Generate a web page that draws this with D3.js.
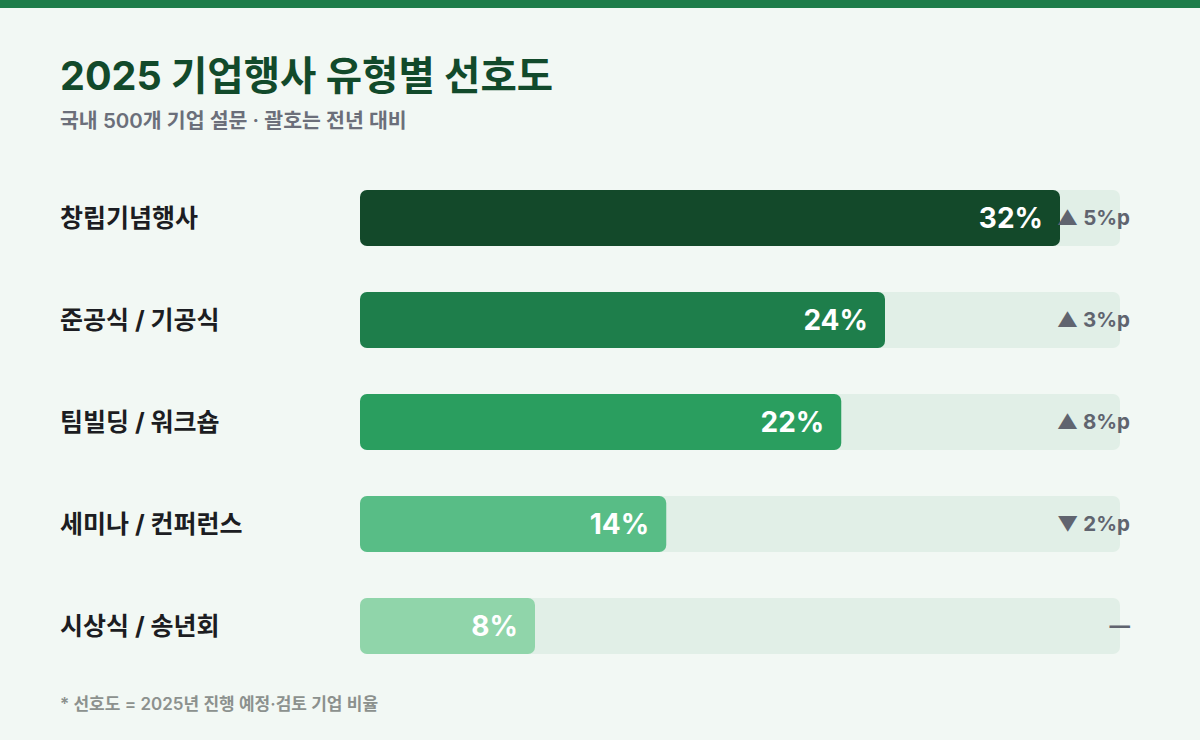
<!DOCTYPE html>
<html>
<head>
<meta charset="utf-8">
<script src="https://d3js.org/d3.v7.min.js"></script>
<style>
  body { margin: 0; background: #f2f8f4; }
  svg { display: block; font-family: "Inter", "Noto Sans CJK KR", "Noto Sans", sans-serif; }
</style>
</head>
<body>
<svg id="chart" width="1200" height="740"></svg>
<script>
var categories = ["창립기념행사", "준공식 / 기공식", "팀빌딩 / 워크숍", "세미나 / 컨퍼런스", "시상식 / 송년회"];
var values = [32, 24, 22, 14, 8];
var deltas = [5, 3, 8, -2, 0];
var colors = ["#13492a", "#1e7e4b", "#2a9e5f", "#58bd86", "#90d5aa"];

var width = 1200, height = 740;
var svg = d3.select("#chart");

svg.append("rect").attr("width", width).attr("height", height).attr("fill", "#f2f8f4");
svg.append("rect").attr("width", width).attr("height", 8).attr("fill", "#1e7d4a");

svg.append("text")
  .attr("x", 60).attr("y", 90)
  .attr("fill", "#124a2b")
  .attr("font-size", 39.5)
  .attr("font-weight", 700)
  .text("2025 기업행사 유형별 선호도");

svg.append("text")
  .attr("x", 60).attr("y", 128)
  .attr("fill", "#6b6f7a")
  .attr("font-size", 20.5)
  .attr("font-weight", 600)
  .text("국내 500개 기업 설문 · 괄호는 전년 대비");

var trackX = 360, trackW = 760;

// 32% -> 700px, so 21.875px per point
var x = d3.scaleLinear().domain([0, 32]).range([0, 700]);

// rows at 102px pitch, 56px bars
var y = d3.scaleBand()
  .domain(categories)
  .range([190, 190 + 102 * 5 - 46])
  .paddingInner(46 / 102)
  .paddingOuter(0);

var rows = svg.selectAll("g.row")
  .data(categories)
  .enter().append("g")
  .attr("class", "row")
  .attr("transform", function(d) { return "translate(0," + y(d) + ")"; });

rows.append("text")
  .attr("x", 60).attr("y", y.bandwidth() / 2)
  .attr("dy", "0.35em")
  .attr("fill", "#1c1d22")
  .attr("font-size", 25)
  .attr("font-weight", 700)
  .text(function(d) { return d; });

rows.append("rect")
  .attr("x", trackX).attr("width", trackW)
  .attr("height", y.bandwidth())
  .attr("rx", 7)
  .attr("fill", "#e1efe7");

rows.append("rect")
  .attr("x", trackX)
  .attr("width", function(d, i) { return x(values[i]); })
  .attr("height", y.bandwidth())
  .attr("rx", 7)
  .attr("fill", function(d, i) { return colors[i]; });

rows.append("text")
  .attr("x", function(d, i) { return trackX + x(values[i]) - 17; })
  .attr("y", y.bandwidth() / 2)
  .attr("dy", "0.36em")
  .attr("text-anchor", "end")
  .attr("fill", "#ffffff")
  .attr("font-size", 28)
  .attr("font-weight", 700)
  .text(function(d, i) { return values[i] + "%"; });

rows.append("text")
  .attr("x", 1130)
  .attr("y", y.bandwidth() / 2)
  .attr("dy", "0.36em")
  .attr("text-anchor", "end")
  .attr("fill", "#60646f")
  .attr("font-size", 20.5)
  .attr("font-weight", 700)
  .text(function(d, i) {
    var v = deltas[i];
    if (v > 0) return "▲ " + v + "%p";
    if (v < 0) return "▼ " + Math.abs(v) + "%p";
    return "—";
  });

svg.append("text")
  .attr("x", 60).attr("y", 710)
  .attr("fill", "#8c918e")
  .attr("font-size", 17)
  .attr("font-weight", 600)
  .text("* 선호도 = 2025년 진행 예정·검토 기업 비율");
</script>
</body>
</html>
